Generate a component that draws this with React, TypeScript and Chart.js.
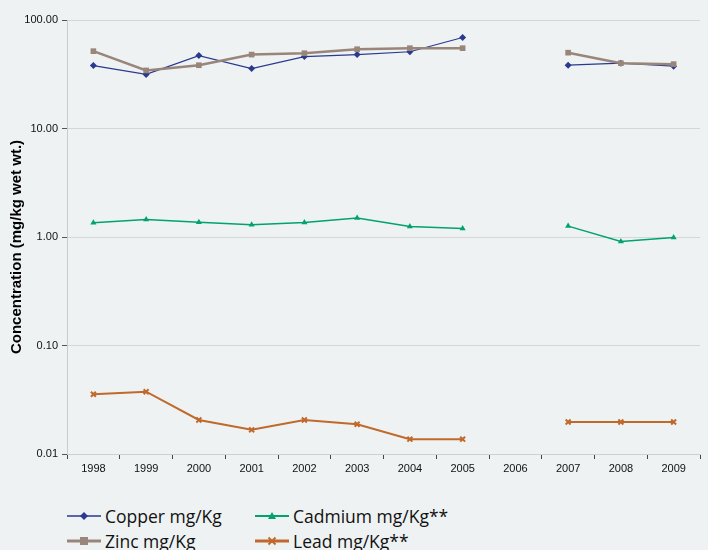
import React, { useEffect, useRef } from "react";
import { Chart, registerables } from "chart.js";

Chart.register(...registerables);

const years = ["1998", "1999", "2000", "2001", "2002", "2003", "2004", "2005", "2006", "2007", "2008", "2009"];
const copper = [38, 31.5, 47, 35.7, 46, 48, 51, 69, null, 38.3, 40, 37.5];
const zinc = [51.6, 34.3, 38.3, 48, 49.4, 53.8, 55, 55, null, 50, 40, 39.2];
const cadmium = [1.35, 1.45, 1.37, 1.3, 1.36, 1.5, 1.25, 1.2, null, 1.26, 0.91, 0.99];
const lead = [0.0355, 0.0375, 0.0206, 0.0167, 0.0206, 0.0188, 0.0137, 0.0137, null, 0.0197, 0.0197, 0.0197];
const yTicks = [0.01, 0.1, 1, 10, 100];
const yTitle = "Concentration (mg/kg wet wt.)";

const BG = "#eef2f3";
const C_COPPER = "#2b3990";
const C_ZINC = "#9a857a";
const C_CAD = "#00a36c";
const C_LEAD = "#c0692b";

const titlePlugin = {
  id: "yTitlePlugin",
  afterDraw(chart: any) {
    const ctx = chart.ctx;
    ctx.save();
    ctx.translate(17, 247);
    ctx.rotate(-Math.PI / 2);
    ctx.font = "bold 15px 'Liberation Sans', Arial, sans-serif";
    ctx.fillStyle = "#000";
    ctx.textAlign = "center";
    ctx.textBaseline = "middle";
    ctx.fillText(yTitle, 0, 0);
    ctx.restore();
  },
};

function Marker({ kind, color }: { kind: string; color: string }) {
  let shape: any = null;
  if (kind === "diamond") shape = <polygon points="17,2 21,6 17,10 13,6" fill={color} />;
  if (kind === "square") shape = <rect x={13} y={2} width={8} height={8} fill={color} />;
  if (kind === "triangle") shape = <polygon points="17,2 21,9 13,9" fill={color} />;
  if (kind === "cross")
    shape = (
      <g stroke={color} strokeWidth={2}>
        <line x1={13.5} y1={2.5} x2={20.5} y2={9.5} />
        <line x1={20.5} y1={2.5} x2={13.5} y2={9.5} />
      </g>
    );
  const lw = kind === "diamond" ? 1.5 : kind === "triangle" ? 2 : 3;
  return (
    <svg width={34} height={12} style={{ display: "block" }}>
      <line x1={0} y1={6} x2={34} y2={6} stroke={color} strokeWidth={lw} />
      {shape}
    </svg>
  );
}

const legendItems = [
  { label: "Copper mg/Kg", kind: "diamond", color: C_COPPER, x: 67, y: 516 },
  { label: "Cadmium mg/Kg**", kind: "triangle", color: C_CAD, x: 255, y: 516 },
  { label: "Zinc mg/Kg", kind: "square", color: C_ZINC, x: 67, y: 541 },
  { label: "Lead mg/Kg**", kind: "cross", color: C_LEAD, x: 255, y: 541 },
];

export default function App() {
  const ref = useRef<HTMLCanvasElement>(null);

  useEffect(() => {
    document.body.style.margin = "0";
    document.body.style.background = BG;
    const canvas = ref.current!;
    const chart = new Chart(canvas, {
      type: "line",
      data: {
        labels: years,
        datasets: [
          {
            label: "Copper mg/Kg",
            data: copper,
            borderColor: C_COPPER,
            backgroundColor: C_COPPER,
            borderWidth: 1.2,
            pointStyle: "rectRot",
            pointRadius: 3.5,
            pointBorderWidth: 0,
            spanGaps: false,
            order: 2,
          },
          {
            label: "Zinc mg/Kg",
            data: zinc,
            borderColor: C_ZINC,
            backgroundColor: C_ZINC,
            borderWidth: 2.5,
            pointStyle: "rect",
            pointRadius: 4,
            pointBorderWidth: 0,
            spanGaps: false,
            order: 1,
          },
          {
            label: "Cadmium mg/Kg**",
            data: cadmium,
            borderColor: C_CAD,
            backgroundColor: C_CAD,
            borderWidth: 1.5,
            pointStyle: "triangle",
            pointRadius: 3.5,
            pointBorderWidth: 0,
            spanGaps: false,
            order: 3,
          },
          {
            label: "Lead mg/Kg**",
            data: lead,
            borderColor: C_LEAD,
            backgroundColor: C_LEAD,
            borderWidth: 2,
            pointStyle: "crossRot",
            pointRadius: 3.5,
            pointBorderWidth: 2,
            spanGaps: false,
            order: 4,
          },
        ],
      },
      options: {
        responsive: false,
        animation: false,
        devicePixelRatio: 1,
        layout: { padding: { left: 0, right: 8, top: 20, bottom: 0 } },
        plugins: { legend: { display: false }, tooltip: { enabled: false } },
        elements: { line: { tension: 0 } },
        scales: {
          x: {
            type: "category",
            offset: true,
            afterFit: (s: any) => {
              s.height = 26;
            },
            grid: {
              offset: true,
              drawOnChartArea: false,
              tickLength: 5,
              tickColor: "#444",
            },
            border: { color: "#cdd1d3" },
            ticks: {
              color: "#111",
              padding: 3,
              font: { family: "'Liberation Sans Narrow', 'Liberation Sans', Arial, sans-serif", size: 11 },
              maxRotation: 0,
              autoSkip: false,
            },
          },
          y: {
            type: "logarithmic",
            min: 0.01,
            max: 100,
            afterFit: (s: any) => {
              s.width = 67;
            },
            afterBuildTicks: (s: any) => {
              s.ticks = yTicks.map((v) => ({ value: v }));
            },
            grid: {
              color: "#d3d7d9",
              lineWidth: 1,
              tickLength: 5,
              tickColor: "#555",
            },
            border: { color: "#c8cccd" },
            ticks: {
              color: "#111",
              padding: 4,
              font: { family: "'Liberation Sans', Arial, sans-serif", size: 11 },
              callback: (v: any) => Number(v).toFixed(2),
            },
          },
        },
      },
      plugins: [titlePlugin],
    } as any);
    return () => chart.destroy();
  }, []);

  return (
    <div style={{ position: "relative", width: 708, height: 550, background: BG, overflow: "hidden" }}>
      <canvas ref={ref} width={708} height={480} style={{ display: "block" }} />
      {legendItems.map((it) => (
        <div
          key={it.label}
          style={{
            position: "absolute",
            left: it.x,
            top: it.y - 12,
            height: 24,
            display: "flex",
            alignItems: "center",
            fontFamily: "'Open Sans', sans-serif",
            fontSize: 17.5,
            color: "#111",
            whiteSpace: "nowrap",
          }}
        >
          <Marker kind={it.kind} color={it.color} />
          <span style={{ marginLeft: 4 }}>{it.label}</span>
        </div>
      ))}
    </div>
  );
}
